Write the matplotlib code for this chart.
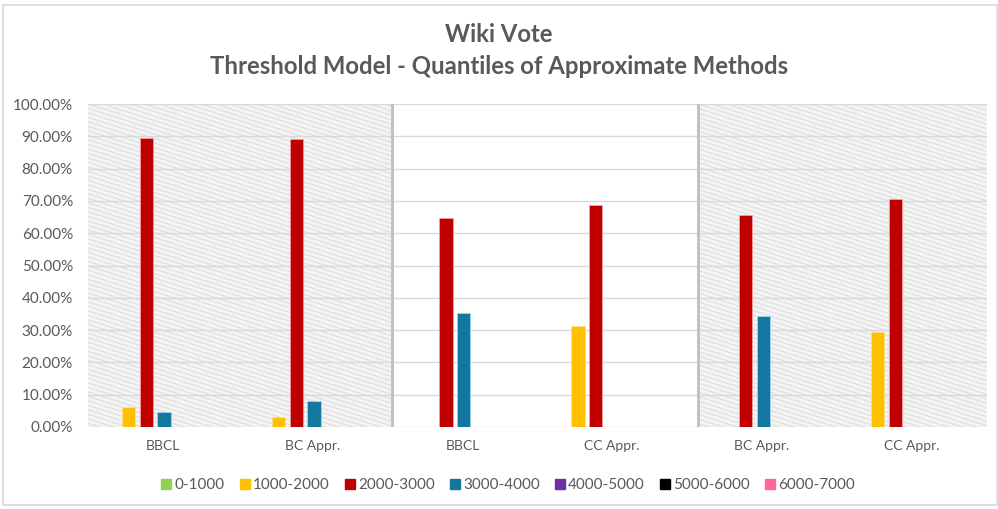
import matplotlib
matplotlib.use("Agg")
import matplotlib.pyplot as plt
import numpy as np
from matplotlib.patches import Rectangle
from matplotlib.collections import LineCollection
from matplotlib.lines import Line2D

plt.rcParams['font.family'] = ['Lato', 'DejaVu Sans']

# Data: share of nodes per quantile bucket, in percent
categories = ["BBCL", "BC Appr.", "BBCL", "CC Appr.", "BC Appr.", "CC Appr."]
series_names = ["0-1000", "1000-2000", "2000-3000", "3000-4000",
                "4000-5000", "5000-6000", "6000-7000"]
q_0_1000 = [0.0, 0.0, 0.0, 0.0, 0.0, 0.0]
q_1000_2000 = [6.2, 3.2, 0.0, 31.4, 0.0, 29.3]
q_2000_3000 = [89.5, 89.2, 64.8, 68.8, 65.5, 70.6]
q_3000_4000 = [4.5, 7.9, 35.2, 0.0, 34.4, 0.0]
q_4000_5000 = [0.0, 0.0, 0.0, 0.0, 0.0, 0.0]
q_5000_6000 = [0.0, 0.0, 0.0, 0.0, 0.0, 0.0]
q_6000_7000 = [0.0, 0.0, 0.0, 0.0, 0.0, 0.0]
series_values = [q_0_1000, q_1000_2000, q_2000_3000, q_3000_4000,
                 q_4000_5000, q_5000_6000, q_6000_7000]
series_colors = ["#92D050", "#FFC000", "#C00000", "#13789F",
                 "#7030A0", "#000000", "#FF6699"]
edge_colors = ["#c8e6a8", "#ffe08a", "#f0a0a0", "#9fd6ea",
               "#c4a6dd", "#888888", "#ffc0d4"]
yticks = np.arange(0, 101, 10)

W, H = 998, 509
fig = plt.figure(figsize=(W / 100, H / 100), dpi=100)
ax = fig.add_axes([88 / W, 1 - 427 / H, (986.7 - 88) / W, (427 - 104) / H])

x = np.arange(len(categories))
ax.set_xlim(-0.5, len(categories) - 0.5)
ax.set_ylim(0, 100)

# Shaded panels with a fine diagonal texture
sep1, sep2 = 1.527, 3.570
panels = [(-0.5, sep1), (sep2, len(categories) - 0.5)]
ax_w_px = (986.7 - 88)
ax_h_px = (427 - 104)
for (x0, x1) in panels:
    rect = Rectangle((x0, 0), x1 - x0, 100, facecolor="#f4f4f4",
                     edgecolor="none", zorder=0)
    ax.add_patch(rect)
    fx0 = (x0 + 0.5) / len(categories)
    fx1 = (x1 + 0.5) / len(categories)
    slope = -0.32 * ax_w_px / ax_h_px  # shallow descending lines
    spacing = 4.5 / ax_h_px
    segs = []
    offsets = np.arange(-0.1, 1.0 - slope * (fx1 - fx0) + 0.1, spacing)
    for c in offsets:
        segs.append([(fx0, c), (fx1, c + slope * (fx1 - fx0))])
    lc = LineCollection(segs, colors="#e0e0e0", linewidths=0.9,
                        transform=ax.transAxes, zorder=0.5)
    clip = Rectangle((x0, 0), x1 - x0, 100, transform=ax.transData)
    lc.set_clip_path(clip)
    ax.add_collection(lc)

# Gridlines
for t in yticks:
    ax.axhline(t, color="#d9d9d9", lw=1.0, zorder=1)

# Panel separators
for s in (sep1, sep2):
    ax.axvline(s, color="#bfbfbf", lw=2.0, zorder=1.5)

# Bars
n = len(series_names)
pitch = 0.118
bw = 0.089
for i, (name, vals, col, ec) in enumerate(zip(series_names, series_values,
                                               series_colors, edge_colors)):
    ax.bar(x + (i - (n - 1) / 2) * pitch + 0.008, vals, width=bw, color=col,
           edgecolor=ec, linewidth=0.6, label=name, zorder=3)

for sp in ax.spines.values():
    sp.set_visible(False)

ax.set_yticks(yticks)
ax.set_yticklabels([f"{t:.2f}%" for t in yticks])
ax.set_xticks(x)
ax.set_xticklabels(categories)
ax.tick_params(axis="both", length=0, colors="#595959")
ax.tick_params(axis="y", pad=10.8, labelsize=11)
ax.tick_params(axis="x", pad=9, labelsize=10)

fig.text(0.5, 1 - 35 / H, "Wiki Vote", ha="center", va="center",
         fontsize=17.2, fontweight="bold", color="#595959")
fig.text(0.5, 1 - 67 / H, "Threshold Model - Quantiles of Approximate Methods",
         ha="center", va="center", fontsize=17.2, fontweight="bold",
         color="#595959")

proxies = [Line2D([0], [0], marker="s", color="none", markerfacecolor=c,
                  markeredgecolor=c, markersize=7) for c in series_colors]
leg = fig.legend(proxies, series_names, loc="center", ncol=7,
                 bbox_to_anchor=(508 / W, 1 - 485 / H), frameon=False,
                 fontsize=11, handlelength=0.7, handletextpad=0.2,
                 columnspacing=0.95, labelcolor="#595959")

# Chart frame
fig.patches.append(Rectangle((3 / W, 4 / H), (994 / W), (500 / H),
                             transform=fig.transFigure, fill=False,
                             edgecolor="#d9d9d9", lw=1.2))

fig.savefig("out.png", dpi=100, facecolor="white")
